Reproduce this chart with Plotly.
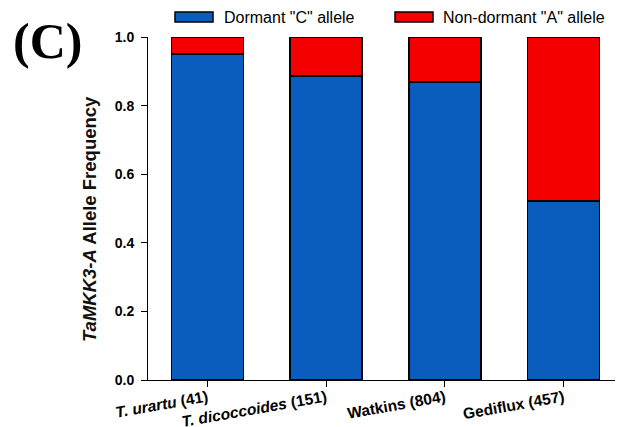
import plotly.graph_objects as go

categories = ["<b><i>T. urartu</i> (41)</b>", "<b><i>T. dicoccoides</i> (151)</b>",
              "<b>Watkins (804)</b>", "<b>Gediflux (457)</b>"]
dormant_C = [0.95, 0.886, 0.869, 0.522]
nondormant_A = [round(1 - v, 3) for v in dormant_C]
series_names = ['Dormant "C" allele', 'Non-dormant "A" allele']
colors = ["#0A5CBD", "#F40000"]
y_ticks = [0.0, 0.2, 0.4, 0.6, 0.8, 1.0]

x_idx = list(range(len(categories)))

fig = go.Figure()
for name, vals, col in zip(series_names, [dormant_C, nondormant_A], colors):
    fig.add_trace(go.Bar(x=x_idx, y=vals, name=name,
                         marker=dict(color=col, line=dict(color="black", width=1.5)),
                         showlegend=False))

# The page body has an 8px margin, so the figure is sized to fit the window.
OFF = 8
W, H = 623 - OFF, 427 - OFF
L, R, T, B = 148 - OFF, 0, 37 - OFF, 427 - 380
PW, PH = W - L - R, H - T - B


def px(x):  # page x -> paper x
    return (x - OFF - L) / PW


def py(y):  # page y -> paper y
    return (H - B - (y - OFF)) / PH


fig.update_layout(
    width=W, height=H, barmode="stack", bargap=0.394,
    margin=dict(l=L, r=R, t=T, b=B),
    plot_bgcolor="white", paper_bgcolor="white",
    font=dict(family="Liberation Sans, Arial", color="black"),
    xaxis=dict(range=[-0.5, 3.5], tickmode="array", tickvals=x_idx, ticktext=categories,
               tickangle=-10, ticks="outside", ticklen=6, tickcolor="black", showline=True,
               linecolor="black", linewidth=1, showgrid=False, zeroline=False, automargin=False,
               ticklabelstandoff=-4,
               tickfont=dict(size=15.5, family="Liberation Sans, Arial", color="black")),
    yaxis=dict(range=[0, 1], tickmode="array", tickvals=y_ticks,
               ticktext=["<b>%.1f</b>" % v for v in y_ticks],
               ticks="outside", ticklen=6, tickcolor="black", showline=True,
               linecolor="black", linewidth=1, showgrid=False, zeroline=False,
               ticklabelstandoff=4, automargin=False,
               tickfont=dict(size=14, family="Liberation Sans, Arial", color="black")),
)

# Y-axis title
fig.add_annotation(x=px(90), y=py(219), xref="paper", yref="paper", xanchor="center", yanchor="middle",
                   text="<b><i>TaMKK3-A</i> Allele Frequency</b>", textangle=-90, showarrow=False,
                   font=dict(size=18.5, family="Liberation Sans, Arial", color="#111"))

# Panel label
fig.add_annotation(x=px(11), y=py(41), xref="paper", yref="paper", xanchor="left", yanchor="middle",
                   text="<b>(C)</b>", showarrow=False,
                   font=dict(size=50, family="Liberation Serif, Times New Roman", color="black"))

# Custom legend (wide rectangular swatches)
legend_items = [(175, 222), (395, 441)]
for (sx, tx), name, col in zip(legend_items, series_names, colors):
    fig.add_shape(type="rect", xref="paper", yref="paper",
                  x0=px(sx), x1=px(sx + 38), y0=py(22), y1=py(12),
                  fillcolor=col, line=dict(color="black", width=1.5))
    fig.add_annotation(xref="paper", yref="paper", x=px(tx), y=py(17),
                       xanchor="left", yanchor="middle", text=name, showarrow=False,
                       font=dict(size=16, family="Liberation Sans, Arial", color="black"))

fig.write_html("out.html")
